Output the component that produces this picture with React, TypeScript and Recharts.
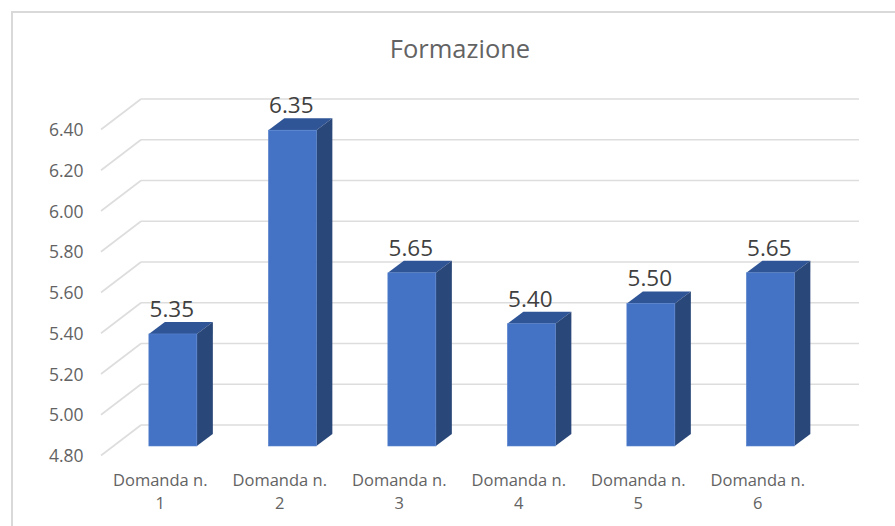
import { BarChart, Bar, XAxis, YAxis, CartesianGrid, LabelList } from "recharts";

const categories = ["Domanda n. 1", "Domanda n. 2", "Domanda n. 3", "Domanda n. 4", "Domanda n. 5", "Domanda n. 6"];
const values = [5.35, 6.35, 5.65, 5.4, 5.5, 5.65];
const yTicks = [4.8, 5.0, 5.2, 5.4, 5.6, 5.8, 6.0, 6.2, 6.4];

const FONT = "'Open Sans', sans-serif";
const GRID = "#DDDDDD";
const data = categories.map((name, i) => ({ name, value: values[i] }));

// fake 3D offsets
const BAR_DX = 16;
const BAR_DY = 12;
const WALL_LEFT = 101;
const WALL_BACK = 141;
const WALL_RIGHT = 859;
const BACK_DY = 21;
const FRONT_DY = 9.5;

function Bar3D({ x, y, width, height }: any) {
  const r = x + width;
  const b = y + height;
  return (
    <g>
      <polygon points={`${x},${y} ${x + BAR_DX},${y - BAR_DY} ${r + BAR_DX},${y - BAR_DY} ${r},${y}`} fill="#2F5597" />
      <polygon points={`${r},${y} ${r + BAR_DX},${y - BAR_DY} ${r + BAR_DX},${b - BAR_DY} ${r},${b}`} fill="#2A4779" />
      <rect x={x} y={y} width={width} height={height} fill="#4472C4" stroke="#5B86D0" strokeWidth={0.6} />
    </g>
  );
}

function BackGridLine({ y1 }: any) {
  return <line x1={WALL_BACK} x2={WALL_RIGHT} y1={y1 - BACK_DY} y2={y1 - BACK_DY} stroke={GRID} strokeWidth={1.6} />;
}

function ValueTick({ y, payload }: any) {
  return (
    <g>
      <line x1={WALL_LEFT} y1={y + FRONT_DY} x2={WALL_BACK} y2={y - BACK_DY} stroke={GRID} strokeWidth={1.6} />
      <text x={83.5} y={y + FRONT_DY + 6.5} textAnchor="end" fontFamily={FONT} fontSize={17.5} fill="#636363">
        {payload.value.toFixed(2)}
      </text>
    </g>
  );
}

function CategoryTick({ x, payload }: any) {
  const words = payload.value.split(" ");
  const last = words.pop();
  return (
    <text textAnchor="middle" fontFamily={FONT} fontSize={16.5} fill="#636363">
      <tspan x={x - 12.5} y={486}>{words.join(" ")}</tspan>
      <tspan x={x - 12.5} y={509}>{last}</tspan>
    </text>
  );
}

function ValueLabel({ x, y, width, value }: any) {
  return (
    <text x={x + width / 2 - 1} y={y - 17} textAnchor="middle" fontFamily={FONT} fontSize={22.5} fill="#404040">
      {value.toFixed(2)}
    </text>
  );
}

export default function App() {
  return (
    <div style={{ position: "absolute", left: 0, top: 0, width: 895, height: 526, background: "#fff", overflow: "hidden" }}>
      <div style={{ position: "absolute", left: 11, top: 11, width: 884, height: 515, borderLeft: "2px solid #D9D9D9", borderTop: "2px solid #D9D9D9", boxSizing: "border-box" }} />
      <BarChart
        width={895}
        height={526}
        data={data}
        barCategoryGap="30%"
        margin={{ top: 120, right: 65, bottom: 0, left: 0 }}
        style={{ position: "absolute", left: 0, top: 0 }}
      >
        <text x={460} y={57.5} textAnchor="middle" fontFamily={FONT} fontSize={25.5} fill="#636363">
          Formazione
        </text>
        <CartesianGrid vertical={false} horizontal={(p: any) => <BackGridLine key={p.y1} {...p} />} />
        <XAxis dataKey="name" height={80} interval={0} axisLine={false} tickLine={false} tick={<CategoryTick />} />
        <YAxis width={113} domain={[4.8, 6.4]} ticks={yTicks} interval={0} axisLine={false} tickLine={false} tick={<ValueTick />} />
        <Bar dataKey="value" shape={<Bar3D />} isAnimationActive={false}>
          <LabelList dataKey="value" content={<ValueLabel />} />
        </Bar>
      </BarChart>
    </div>
  );
}
